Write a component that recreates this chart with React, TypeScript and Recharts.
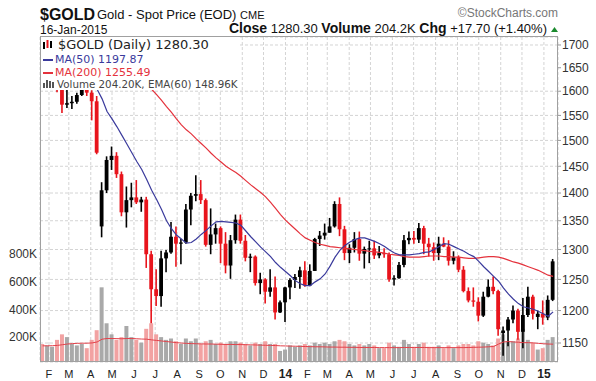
import React from 'react';
import { ComposedChart, Bar, Line, XAxis, YAxis, CartesianGrid, Cell } from 'recharts';

// weekly bars, 21 Jan 2013 .. 12 Jan 2015
const open = [
  1692, 1659, 1666, 1668, 1609, 1572, 1575, 1578, 1592, 1606,
  1597, 1579, 1340, 1405, 1462, 1470, 1435, 1365, 1387, 1392,
  1383, 1388, 1292, 1234, 1223, 1285, 1295, 1322, 1310, 1312,
  1370, 1395, 1398, 1387, 1308, 1326, 1337, 1310, 1273, 1316,
  1352, 1315, 1286, 1288, 1244, 1250, 1230, 1237, 1197, 1213,
  1237, 1249, 1254, 1265, 1240, 1264, 1318, 1324, 1329, 1340,
  1380, 1335, 1294, 1303, 1318, 1293, 1301, 1302, 1290, 1294,
  1292, 1250, 1252, 1274, 1316, 1320, 1317, 1337, 1310, 1304,
  1294, 1310, 1305, 1281, 1287, 1266, 1231, 1216, 1214, 1192,
  1222, 1238, 1231, 1165, 1169, 1186, 1200, 1167, 1193, 1222,
  1190, 1195, 1189, 1217,
];
const high = [
  1696, 1684, 1683, 1669, 1612, 1619, 1590, 1597, 1616, 1611,
  1602, 1590, 1420, 1469, 1488, 1477, 1440, 1412, 1419, 1424,
  1393, 1393, 1298, 1267, 1298, 1299, 1348, 1340, 1318, 1380,
  1400, 1433, 1424, 1390, 1372, 1345, 1340, 1330, 1325, 1361,
  1361, 1325, 1293, 1290, 1261, 1252, 1267, 1255, 1216, 1238,
  1252, 1259, 1271, 1280, 1275, 1320, 1332, 1345, 1355, 1385,
  1392, 1341, 1309, 1330, 1331, 1305, 1315, 1315, 1306, 1302,
  1295, 1257, 1279, 1325, 1331, 1332, 1346, 1341, 1320, 1312,
  1322, 1321, 1316, 1297, 1290, 1272, 1237, 1237, 1221, 1230,
  1250, 1255, 1233, 1175, 1190, 1208, 1203, 1220, 1238, 1225,
  1200, 1216, 1224, 1284,
];
const low = [
  1655, 1653, 1660, 1598, 1555, 1565, 1563, 1574, 1590, 1590,
  1540, 1473, 1321, 1400, 1443, 1428, 1358, 1338, 1374, 1380,
  1366, 1269, 1180, 1207, 1206, 1262, 1293, 1271, 1275, 1310,
  1342, 1385, 1380, 1305, 1292, 1310, 1277, 1260, 1251, 1310,
  1310, 1280, 1262, 1240, 1226, 1211, 1222, 1186, 1196, 1182,
  1218, 1236, 1235, 1238, 1239, 1264, 1306, 1317, 1329, 1338,
  1323, 1282, 1277, 1295, 1281, 1268, 1277, 1284, 1285, 1286,
  1246, 1240, 1251, 1270, 1309, 1310, 1311, 1292, 1288, 1281,
  1282, 1304, 1273, 1275, 1262, 1229, 1213, 1206, 1183, 1190,
  1221, 1226, 1161, 1131, 1145, 1180, 1155, 1142, 1190, 1186,
  1171, 1178, 1185, 1215,
];
const close = [
  1659, 1667, 1668, 1609, 1572, 1575, 1578, 1592, 1606, 1597,
  1579, 1476, 1405, 1462, 1470, 1435, 1365, 1387, 1392, 1383,
  1388, 1292, 1234, 1223, 1285, 1295, 1322, 1310, 1312, 1370,
  1395, 1398, 1387, 1308, 1326, 1337, 1310, 1273, 1316, 1352,
  1315, 1286, 1288, 1244, 1250, 1230, 1237, 1197, 1213, 1237,
  1249, 1254, 1265, 1240, 1264, 1318, 1324, 1329, 1340, 1380,
  1335, 1294, 1303, 1318, 1293, 1301, 1302, 1290, 1294, 1292,
  1250, 1252, 1274, 1316, 1320, 1317, 1337, 1310, 1304, 1294,
  1310, 1305, 1281, 1287, 1266, 1231, 1216, 1214, 1192, 1222,
  1238, 1231, 1171, 1169, 1186, 1200, 1167, 1193, 1222, 1195,
  1195, 1189, 1217, 1280,
];
// average daily volume, thousands
const volume = [
  150, 140, 130, 180, 220, 200, 150, 140, 150, 120,
  180, 250, 560, 300, 220, 180, 200, 280, 200, 180,
  160, 260, 300, 220, 200, 180, 190, 170, 150, 190,
  170, 190, 150, 170, 180, 150, 160, 150, 170, 170,
  160, 150, 140, 160, 150, 170, 150, 150, 100, 110,
  140, 130, 140, 150, 140, 160, 150, 160, 150, 170,
  180, 170, 150, 140, 150, 140, 150, 140, 120, 120,
  160, 140, 130, 180, 150, 130, 150, 160, 130, 130,
  140, 120, 140, 120, 140, 150, 150, 140, 170, 160,
  150, 140, 190, 220, 170, 170, 190, 260, 180, 160,
  110, 120, 180, 200,
];
const volEma60 = [
  137, 137, 138, 140, 145, 150, 153, 155, 156, 156,
  158, 165, 185, 190, 190, 189, 188, 190, 190, 188,
  186, 185, 180, 176, 172, 168, 164, 160, 157, 155,
  153, 152, 151, 150, 150, 149, 148, 147, 147, 146,
  146, 145, 144, 143, 142, 141, 140, 139, 137, 136,
  135, 134, 133, 132, 131, 130, 130, 129, 128, 128,
  127, 127, 126, 126, 125, 125, 125, 125, 124, 124,
  124, 124, 124, 125, 125, 125, 125, 125, 124, 124,
  124, 124, 124, 124, 124, 124, 125, 126, 127, 128,
  130, 132, 150, 165, 168, 165, 163, 160, 160, 158,
  155, 152, 150, 149,
];
const ma50 = [
  null, null, null, null, null, null, null, null, null, null,
  1612, 1604, 1584, 1558, 1543, 1527, 1510, 1493, 1476, 1459,
  1444, 1425, 1405, 1388, 1370, 1350, 1336, 1325, 1318, 1311,
  1312, 1318, 1326, 1333, 1341, 1348, 1349, 1348, 1347, 1346,
  1342, 1332, 1322, 1313, 1304, 1296, 1288, 1278, 1270, 1263,
  1256, 1248, 1243, 1240, 1240, 1246, 1251, 1259, 1272, 1287,
  1299, 1307, 1313, 1317, 1320, 1320, 1317, 1314, 1310, 1305,
  1299, 1294, 1291, 1291, 1291, 1292, 1293, 1295, 1296, 1300,
  1305, 1310, 1309, 1305, 1301, 1297, 1292, 1288, 1280, 1271,
  1263, 1255, 1247, 1236, 1226, 1218, 1211, 1206, 1204, 1202,
  1199, 1195, 1191, 1198,
];
const ma200 = [
  null, null, null, null, null, null, null, null, null, null,
  null, null, null, null, null, null, null, null, null, null,
  1620, 1612, 1604, 1593, 1581, 1568, 1556, 1543, 1531, 1521,
  1513, 1503, 1494, 1485, 1475, 1466, 1458, 1450, 1444, 1438,
  1431, 1423, 1415, 1408, 1401, 1393, 1383, 1372, 1361, 1351,
  1343, 1335, 1327, 1320, 1316, 1312, 1309, 1307, 1305, 1304,
  1303, 1302, 1301, 1300, 1299, 1298, 1297, 1296, 1295, 1294,
  1292, 1291, 1290, 1288, 1287, 1287, 1287, 1288, 1289, 1289,
  1289, 1288, 1288, 1287, 1287, 1286, 1285, 1285, 1286, 1287,
  1288, 1288, 1287, 1285, 1282, 1279, 1277, 1274, 1271, 1268,
  1265, 1261, 1257, 1255,
];

// days after 1 Jan 2013
const monthTicks = [31, 59, 90, 120, 151, 181, 212, 243, 273, 304, 334, 365, 396, 424, 455, 485, 516, 546, 577, 608, 638, 669, 699, 730];
const monthLabels = ['F', 'M', 'A', 'M', 'J', 'J', 'A', 'S', 'O', 'N', 'D', '14', 'F', 'M', 'A', 'M', 'J', 'J', 'A', 'S', 'O', 'N', 'D', '15'];
const priceTicks = [1150, 1200, 1250, 1300, 1350, 1400, 1450, 1500, 1550, 1600, 1650, 1700];
const volumeTicks = [200, 400, 600, 800];

// middle of each week (first week: 21-25 Jan 2013)
const weekDay = close.map((_, i) => 22 + 7 * i);

const rows = close.map((c, i) => ({
  t: weekDay[i],
  range: [low[i], high[i]],
  open: open[i],
  high: high[i],
  low: low[i],
  close: c,
  vol: volume[i],
  volEma: volEma60[i],
  ma50: ma50[i],
  ma200: ma200[i],
}));

const RED = '#e8141c';
const SANS = 'Liberation Sans, Arial, sans-serif';
const VERDANA = 'DejaVu Sans, Verdana, sans-serif';

const Candle = (props: any) => {
  const { x, y, width, height, payload } = props;
  if (!payload || x == null || y == null) return null;
  const top = Math.min(y, y + height);
  const h = Math.abs(height);
  const lh = Math.log(payload.high);
  const ll = Math.log(payload.low);
  const py = (v: number) => top + (h * (lh - Math.log(v))) / (lh - ll || 1);
  const up = payload.close >= payload.open;
  const color = up ? '#000' : RED;
  const cx = x + width / 2;
  const y1 = py(Math.max(payload.open, payload.close));
  const y2 = py(Math.min(payload.open, payload.close));
  return (
    <g>
      <line x1={cx} x2={cx} y1={top} y2={top + h} stroke={color} strokeWidth={1.6} />
      <rect x={cx - 1.9} width={3.8} y={y1} height={Math.max(1, y2 - y1)} fill={color} />
    </g>
  );
};

const MonthTick = (props: any) => {
  const { x, y, payload } = props;
  const idx = monthTicks.indexOf(payload.value);
  const label = monthLabels[idx] ?? '';
  const bold = /\d/.test(label);
  return (
    <text x={x} y={y} dy={8} textAnchor="middle" fontFamily={SANS} fontSize={bold ? 12 : 11} fontWeight={bold ? 'bold' : 'normal'} fill="#222">
      {label}
    </text>
  );
};

export default function App() {
  return (
    <div style={{ position: 'absolute', left: 0, top: 0, width: 596, height: 381, background: '#fff' }}>
      <ComposedChart width={596} height={381} data={rows} margin={{ top: 37, right: 0, bottom: 0, left: 0 }}>
        <CartesianGrid xAxisId="a" yAxisId="p" stroke="#d4d4d4" strokeDasharray="3 2" />
        <XAxis
          xAxisId="a"
          dataKey="t"
          type="number"
          domain={[18.3, 749.9]}
          allowDataOverflow
          ticks={monthTicks}
          interval={0}
          height={19}
          axisLine={false}
          tickLine={false}
          tick={<MonthTick />}
        />
        <XAxis xAxisId="b" dataKey="t" type="number" domain={[18.3, 749.9]} allowDataOverflow hide />
        <YAxis
          yAxisId="v"
          orientation="left"
          type="number"
          domain={[20, 2370]}
          allowDataOverflow
          ticks={volumeTicks}
          tickFormatter={(v: number) => `${v}K`}
          width={40}
          axisLine={false}
          tickLine={false}
          tickSize={3}
          tickMargin={0}
          tick={{ fontSize: 12, fill: '#333', fontFamily: SANS }}
        />
        <YAxis
          yAxisId="p"
          orientation="right"
          type="number"
          scale="log"
          domain={[1121.7, 1717.9]}
          allowDataOverflow
          ticks={priceTicks}
          width={38}
          axisLine={false}
          tickLine={{ stroke: '#999' }}
          tickSize={3}
          tickMargin={1}
          tick={{ fontSize: 12, fill: '#333', fontFamily: SANS }}
        />
        <Bar xAxisId="a" yAxisId="v" dataKey="vol" barSize={4} isAnimationActive={false}>
          {rows.map((r, i) => (
            <Cell key={`v-${i}`} fill={r.close >= r.open ? '#a9a9a9' : '#f2a2a2'} />
          ))}
        </Bar>
        <Line xAxisId="a" yAxisId="v" dataKey="volEma" stroke="#e3414a" strokeWidth={1} dot={false} isAnimationActive={false} />
        <Bar xAxisId="b" yAxisId="p" dataKey="range" barSize={4} shape={(p: any) => <Candle {...p} />} isAnimationActive={false} />
        <Line xAxisId="a" yAxisId="p" dataKey="ma200" stroke="#e4323c" strokeWidth={1.2} dot={false} isAnimationActive={false} />
        <Line xAxisId="a" yAxisId="p" dataKey="ma50" stroke="#3a3a9c" strokeWidth={1.2} dot={false} isAnimationActive={false} />
      </ComposedChart>

      <svg width={596} height={381} style={{ position: 'absolute', left: 0, top: 0, pointerEvents: 'none' }}>
        <text x={40} y={20} fontFamily={SANS} fontSize={16} fontWeight="bold" fill="#111">$GOLD</text>
        <text x={97} y={19} fontFamily={SANS} fontSize={13} fill="#111">
          Gold - Spot Price (EOD) <tspan fontSize={11}>CME</tspan>
        </text>
        <text x={558} y={17} textAnchor="end" fontFamily={SANS} fontSize={12} fill="#777">©StockCharts.com</text>
        <text x={40} y={34} fontFamily={SANS} fontSize={12} fill="#111">16-Jan-2015</text>
        <text x={547} y={33} textAnchor="end" fontFamily={SANS} fontSize={13} fill="#111">
          <tspan fontWeight="bold" fontSize={14}>Close</tspan>
          {' 1280.30 '}
          <tspan fontWeight="bold" fontSize={14}>Volume</tspan>
          {' 204.2K '}
          <tspan fontWeight="bold" fontSize={14}>Chg</tspan>
          {' +17.70 (+1.40%)'}
        </text>
        <polygon points="551,32 558,32 554.5,27" fill="#1b8a2e" />

        <rect x={41} y={37} width={199} height={53} fill="#fff" />
        <g>
          <rect x={43} y={42} width={2} height={7} fill="#000" />
          <rect x={46.5} y={40} width={2} height={8} fill={RED} />
          <rect x={50} y={41} width={2} height={7} fill="#000" />
        </g>
        <text x={58} y={49} fontFamily={VERDANA} fontSize={13} fill="#222">$GOLD (Daily) 1280.30</text>
        <rect x={43} y={59} width={10} height={2} fill="#3a3a9c" />
        <text x={55} y={63} fontFamily={VERDANA} fontSize={11} fill="#3a3a9c">MA(50) 1197.87</text>
        <rect x={43} y={72} width={10} height={2} fill="#e4323c" />
        <text x={55} y={76} fontFamily={VERDANA} fontSize={11} fill="#e4323c">MA(200) 1255.49</text>
        <g fill="#555">
          <rect x={43} y={83} width={2} height={5} />
          <rect x={46} y={80} width={2} height={8} />
          <rect x={49} y={81} width={2} height={7} />
          <rect x={52} y={82} width={2} height={6} />
        </g>
        <text x={57} y={88} fontFamily={VERDANA} fontSize={10.3} fill="#444">Volume 204.20K, EMA(60) 148.96K</text>

        <rect x={40.5} y={36.5} width={517} height={325} fill="none" stroke="#a0a0a0" />
      </svg>
    </div>
  );
}
